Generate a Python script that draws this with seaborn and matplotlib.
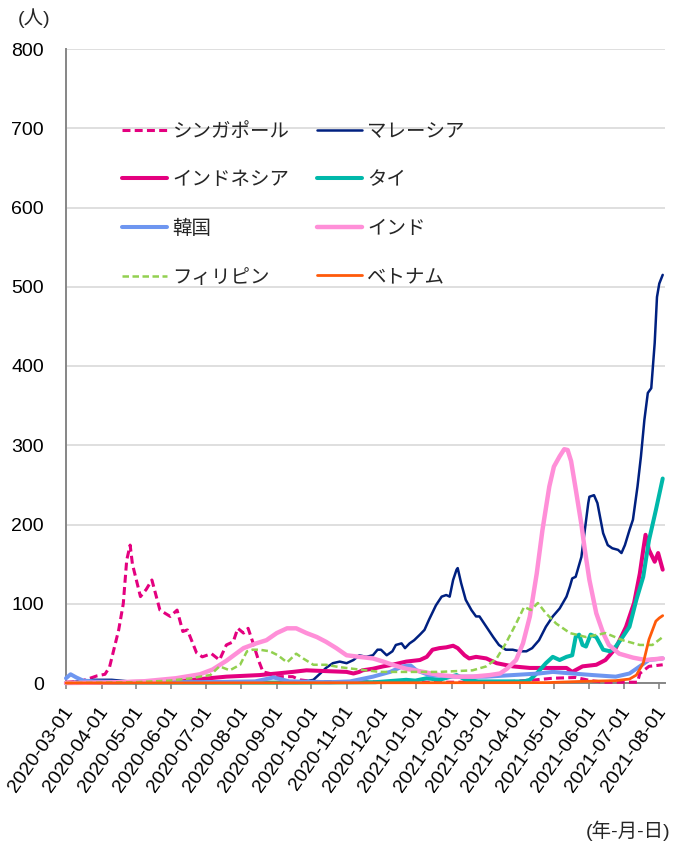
import matplotlib
matplotlib.use("Agg")
import matplotlib.pyplot as plt
import matplotlib.dates as mdates
import matplotlib.transforms as mtransforms
import pandas as pd
import seaborn as sns

# ---- data: daily figures per country (7-day average, persons) ----
sg_dates = ["2020-03-01", "2020-03-13", "2020-03-20", "2020-03-28", "2020-04-04", "2020-04-08",
            "2020-04-16", "2020-04-20", "2020-04-23", "2020-04-26", "2020-04-28", "2020-05-05",
            "2020-05-10", "2020-05-15", "2020-05-22", "2020-05-31", "2020-06-06", "2020-06-11",
            "2020-06-15", "2020-06-23", "2020-06-28", "2020-07-06", "2020-07-13", "2020-07-19",
            "2020-07-25", "2020-07-29", "2020-08-03", "2020-08-07", "2020-08-11", "2020-08-16",
            "2020-08-20", "2020-08-26", "2020-09-01", "2020-09-15", "2020-09-21", "2020-10-02",
            "2020-12-26", "2021-02-14", "2021-03-26", "2021-04-15", "2021-04-30", "2021-05-20",
            "2021-06-02", "2021-06-14", "2021-07-13", "2021-07-15", "2021-07-23", "2021-08-04"]
sg_vals = [1, 2, 5, 9, 11, 20,
           67, 100, 155, 174, 150, 109,
           118, 130, 92, 84, 92, 65,
           67, 38, 33, 37, 29, 48,
           52, 69, 63, 69, 52, 29,
           14, 12, 8, 8, 4, 2,
           1, 1, 2, 4, 6, 7,
           3, 1, 1, 12, 21, 23]

my_dates = ["2020-03-01", "2020-03-16", "2020-03-26", "2020-04-10", "2020-04-25", "2020-05-10",
            "2020-07-29", "2020-09-22", "2020-10-03", "2020-10-09", "2020-10-14", "2020-10-20",
            "2020-10-26", "2020-11-01", "2020-11-07", "2020-11-12", "2020-11-18", "2020-11-24",
            "2020-11-28", "2020-12-01", "2020-12-06", "2020-12-11", "2020-12-14", "2020-12-19",
            "2020-12-22", "2020-12-26", "2020-12-30", "2021-01-04", "2021-01-08", "2021-01-12",
            "2021-01-18", "2021-01-23", "2021-01-27", "2021-01-30", "2021-02-02", "2021-02-05",
            "2021-02-06", "2021-02-09", "2021-02-13", "2021-02-18", "2021-02-22", "2021-02-25",
            "2021-03-03", "2021-03-09", "2021-03-14", "2021-03-20", "2021-03-26", "2021-04-01",
            "2021-04-07", "2021-04-12", "2021-04-18", "2021-04-24", "2021-04-30", "2021-05-06",
            "2021-05-12", "2021-05-15", "2021-05-17", "2021-05-20", "2021-05-25", "2021-05-28",
            "2021-05-31", "2021-06-01", "2021-06-05", "2021-06-08", "2021-06-13", "2021-06-17",
            "2021-06-21", "2021-06-26", "2021-06-29", "2021-07-02", "2021-07-06", "2021-07-09",
            "2021-07-13", "2021-07-16", "2021-07-19", "2021-07-22", "2021-07-25", "2021-07-28",
            "2021-07-30", "2021-08-01", "2021-08-04"]
my_vals = [0, 3, 4, 4, 2, 0.5,
           0.5, 1, 4, 12, 19, 25,
           27, 25, 29, 35, 33, 35,
           42, 42, 35, 40, 48, 50,
           44, 50, 54, 61, 67, 80,
           98, 109, 111, 109, 130, 143,
           145, 126, 105, 92, 84, 84,
           71, 58, 48, 42, 42, 40,
           40, 44, 54, 71, 84, 94,
           109, 122, 132, 134, 159, 193,
           227, 235, 237, 227, 189, 174,
           170, 168, 164, 174, 193, 206,
           248, 286, 332, 366, 372, 429,
           487, 504, 515]

id_dates = ["2020-03-01", "2020-03-31", "2020-04-30", "2020-05-30", "2020-06-19", "2020-07-19",
            "2020-08-17", "2020-09-01", "2020-09-15", "2020-09-27", "2020-10-14", "2020-11-01",
            "2020-11-07", "2020-11-12", "2020-11-15", "2020-11-24", "2020-12-03", "2020-12-11",
            "2020-12-23", "2021-01-04", "2021-01-10", "2021-01-15", "2021-01-21", "2021-01-27",
            "2021-02-02", "2021-02-06", "2021-02-12", "2021-02-16", "2021-02-22", "2021-03-03",
            "2021-03-12", "2021-03-26", "2021-04-10", "2021-04-24", "2021-05-12", "2021-05-17",
            "2021-05-26", "2021-06-07", "2021-06-15", "2021-06-24", "2021-07-03", "2021-07-10",
            "2021-07-15", "2021-07-18", "2021-07-20", "2021-07-23", "2021-07-28", "2021-07-31",
            "2021-08-04"]
id_vals = [0, 0.5, 1.5, 2, 4, 8,
           10, 12, 14, 16, 15, 14,
           12, 14, 16, 18, 21, 23,
           27, 29, 33, 42, 44, 45,
           47, 44, 35, 31, 33, 31,
           25, 21, 19, 19, 19, 14,
           21, 23, 29, 44, 71, 101,
           138, 168, 187, 168, 153, 164,
           143]

th_dates = ["2020-03-01", "2020-04-30", "2020-09-17", "2020-11-26", "2020-12-23", "2020-12-31",
            "2021-01-10", "2021-01-21", "2021-02-05", "2021-02-13", "2021-02-24", "2021-04-05",
            "2021-04-10", "2021-04-16", "2021-04-24", "2021-04-30", "2021-05-06", "2021-05-12",
            "2021-05-17", "2021-05-20", "2021-05-23", "2021-05-26", "2021-05-29", "2021-06-02",
            "2021-06-07", "2021-06-13", "2021-06-19", "2021-06-24", "2021-06-30", "2021-07-06",
            "2021-07-12", "2021-07-18", "2021-07-23", "2021-07-29", "2021-08-04"]
th_vals = [0, 0.5, 0.5, 1, 4, 3,
           6, 4, 10, 4, 2, 2,
           4, 12, 25, 33, 29, 33,
           35, 58, 61, 48, 46, 61,
           58, 42, 40, 46, 58, 71,
           105, 134, 180, 218, 258]

kr_dates = ["2020-03-01", "2020-03-05", "2020-03-10", "2020-03-16", "2020-03-26", "2020-04-30",
            "2020-06-29", "2020-08-13", "2020-08-23", "2020-08-29", "2020-09-04", "2020-09-12",
            "2020-10-17", "2020-11-04", "2020-11-24", "2020-12-09", "2020-12-20", "2020-12-27",
            "2021-01-01", "2021-01-12", "2021-02-04", "2021-03-03", "2021-03-26", "2021-04-18",
            "2021-04-30", "2021-05-17", "2021-06-04", "2021-06-24", "2021-07-06", "2021-07-15",
            "2021-07-23", "2021-08-04"]
kr_vals = [6, 11, 7, 3, 2, 1,
           1, 2, 5, 7, 5, 2,
           1, 2, 8, 14, 21, 22,
           16, 10, 8, 8, 10, 12,
           14, 12, 10, 8, 12, 21,
           29, 31]

in_dates = ["2020-03-01", "2020-03-31", "2020-04-30", "2020-05-07", "2020-06-05", "2020-06-26",
            "2020-07-07", "2020-07-19", "2020-08-03", "2020-08-14", "2020-08-23", "2020-09-01",
            "2020-09-10", "2020-09-18", "2020-09-27", "2020-10-06", "2020-10-14", "2020-10-23",
            "2020-11-01", "2020-11-12", "2020-11-24", "2020-12-03", "2020-12-11", "2020-12-23",
            "2021-01-07", "2021-01-21", "2021-02-05", "2021-02-19", "2021-03-06", "2021-03-15",
            "2021-03-21", "2021-03-29", "2021-04-04", "2021-04-10", "2021-04-16", "2021-04-21",
            "2021-04-27", "2021-05-01", "2021-05-06", "2021-05-10", "2021-05-13", "2021-05-16",
            "2021-05-20", "2021-05-25", "2021-05-28", "2021-06-01", "2021-06-07", "2021-06-13",
            "2021-06-18", "2021-06-27", "2021-07-09", "2021-07-20", "2021-08-04"]
in_vals = [0, 0.5, 1.5, 2, 6, 11,
           17, 28, 44, 50, 54, 63,
           69, 69, 63, 58, 52, 44,
           35, 33, 31, 27, 23, 18,
           14, 10, 8, 8, 10, 12,
           18, 29, 50, 84, 138, 193,
           248, 273, 286, 295, 294, 280,
           245, 200, 168, 130, 88, 63,
           48, 37, 32, 29, 31]

ph_dates = ["2020-03-01", "2020-03-31", "2020-04-30", "2020-05-30", "2020-06-19", "2020-06-26",
            "2020-07-05", "2020-07-13", "2020-07-22", "2020-07-31", "2020-08-06", "2020-08-11",
            "2020-08-17", "2020-08-26", "2020-09-02", "2020-09-10", "2020-09-18", "2020-09-24",
            "2020-10-03", "2020-10-14", "2020-10-26", "2020-11-12", "2020-11-30", "2020-12-26",
            "2021-01-21", "2021-02-19", "2021-03-03", "2021-03-12", "2021-03-20", "2021-03-29",
            "2021-04-05", "2021-04-11", "2021-04-17", "2021-04-24", "2021-05-03", "2021-05-15",
            "2021-05-29", "2021-06-15", "2021-06-30", "2021-07-15", "2021-07-26", "2021-08-04"]
ph_vals = [0, 0.5, 1, 3, 6, 8,
           10, 21, 16, 23, 40, 42,
           42, 40, 35, 26, 37, 31,
           23, 23, 20, 17, 14, 14,
           14, 16, 21, 31, 50, 75,
           96, 92, 101, 88, 75, 63,
           58, 63, 54, 48, 48, 58]

vn_dates = ["2020-03-01", "2021-04-25", "2021-05-25", "2021-06-24", "2021-07-06", "2021-07-12",
            "2021-07-18", "2021-07-23", "2021-07-29", "2021-08-01", "2021-08-04"]
vn_vals = [0, 0.5, 2, 3, 5, 10,
           25, 55, 78, 82, 85]

# legend name, dates, values, colour, width, dashed
series = [
    ("シンガポール", sg_dates, sg_vals, "#e4007f", 2.2, True),
    ("マレーシア", my_dates, my_vals, "#002080", 1.8, False),
    ("インドネシア", id_dates, id_vals, "#e4007f", 2.9, False),
    ("タイ", th_dates, th_vals, "#00b8aa", 2.9, False),
    ("韓国", kr_dates, kr_vals, "#6e96f0", 2.9, False),
    ("インド", in_dates, in_vals, "#ff8fd8", 3.2, False),
    ("フィリピン", ph_dates, ph_vals, "#92d050", 1.8, True),
    ("ベトナム", vn_dates, vn_vals, "#ff5a0a", 2.0, False),
]

sns.set_theme(style="white")
plt.rcParams["font.family"] = ["Liberation Sans", "Noto Sans CJK JP", "DejaVu Sans"]
plt.rcParams["axes.unicode_minus"] = False

fig = plt.figure(figsize=(6.73, 8.41), dpi=100)
ax = fig.add_axes([66 / 673, 1 - 683 / 841, 599 / 673, 634 / 841])

for name, dates, vals, color, lw, dashed in series:
    df = pd.DataFrame({"date": pd.to_datetime(dates), "value": vals})
    sns.lineplot(data=df, x="date", y="value", ax=ax, color=color, linewidth=lw,
                 label=name, estimator=None)
    line = ax.lines[-1]
    line.set_clip_on(False)
    line.set_zorder(3)
    if dashed:
        line.set_dashes((2.6, 1.4))

ax.set_ylim(0, 800)
ax.set_xlim(pd.Timestamp("2020-03-01"), pd.Timestamp("2021-08-06"))
ax.set_yticks(range(0, 801, 100))
ax.xaxis.set_major_locator(mdates.MonthLocator())
ax.xaxis.set_major_formatter(mdates.DateFormatter("%Y-%m-%d"))
ax.set_xlabel("")
ax.set_ylabel("")

ax.yaxis.grid(True, color="#d9d9d9", linewidth=1.2)
ax.xaxis.grid(False)
ax.set_axisbelow(True)
for s in ("top", "right"):
    ax.spines[s].set_visible(False)
for s in ("left", "bottom"):
    ax.spines[s].set_color("#868686")
    ax.spines[s].set_linewidth(1.4)

ax.tick_params(axis="y", length=0, pad=16, labelsize=14, labelcolor="black")
ax.tick_params(axis="x", length=4, width=1.2, color="#868686", direction="out",
               pad=16, labelsize=14, labelcolor="black", bottom=True)

# rotated date labels: the end of each baseline sits just right of its tick
shift = mtransforms.ScaledTranslation(7 / 100, 0, fig.dpi_scale_trans)
for lab in ax.get_xticklabels():
    lab.set_rotation(55)
    lab.set_ha("right")
    lab.set_va("baseline")
    lab.set_rotation_mode("anchor")
    lab.set_transform(lab.get_transform() + shift)

handles, labels = ax.get_legend_handles_labels()
order = [0, 2, 4, 6, 1, 3, 5, 7]
ax.legend([handles[i] for i in order], [labels[i] for i in order],
          ncol=2, loc="upper left", bbox_to_anchor=(122 / 673, 1 - 123 / 841),
          bbox_transform=fig.transFigure, frameon=False, fontsize=14,
          handlelength=2.3, handletextpad=0.3, columnspacing=1.4,
          labelspacing=1.58, borderpad=0, borderaxespad=0)

fig.text(34 / 673, 1 - 18 / 841, "(人)", ha="center", va="center", fontsize=14)
fig.text(670 / 673, 1 - 831 / 841, "(年-月-日)", ha="right", va="center", fontsize=14)

fig.savefig("out.png", dpi=100)
